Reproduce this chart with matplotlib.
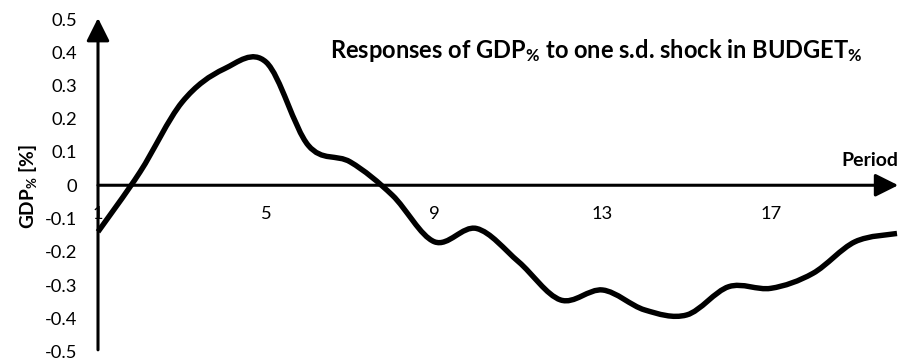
import matplotlib
matplotlib.use('Agg')
import matplotlib.pyplot as plt
from matplotlib.path import Path
from matplotlib.patches import PathPatch

# ---- data ----
periods = list(range(1, 21))
gdp_response = [-0.14, 0.04, 0.25, 0.35, 0.37, 0.12, 0.07, -0.03, -0.17, -0.13,
                -0.23, -0.345, -0.315, -0.375, -0.39, -0.305, -0.31, -0.265, -0.17, -0.145]
xtick_values = [1, 5, 9, 13, 17]
xtick_labels = ['1', '5', '9', '13', '17']
ytick_values = [-0.5, -0.4, -0.3, -0.2, -0.1, 0.0, 0.1, 0.2, 0.3, 0.4, 0.5]
ytick_labels = ['-0.5', '-0.4', '-0.3', '-0.2', '-0.1', '0', '0.1', '0.2', '0.3', '0.4', '0.5']
title_text = r"Responses of GDP$_{\mathbf{\%}}$ to one s.d. shock in BUDGET$_{\mathbf{\%}}$"
ylabel_text = r"GDP$_{\mathbf{\%}}$ [%]"
xlabel_text = "Period"

plt.rcParams['font.family'] = ['Lato', 'DejaVu Sans']
plt.rcParams['mathtext.fontset'] = 'custom'
plt.rcParams['mathtext.rm'] = 'Lato'
plt.rcParams['mathtext.bf'] = 'Lato:bold'
plt.rcParams['mathtext.it'] = 'Lato:italic'

W, H = 899, 360
fig = plt.figure(figsize=(W / 100, H / 100), dpi=100)
x0, x1 = 98, 897
ytop, ybot = 19, 351.5
ax = fig.add_axes([x0 / W, 1 - ybot / H, (x1 - x0) / W, (ybot - ytop) / H])
ax.set_xlim(1, 20)
ax.set_ylim(-0.5, 0.5)
for s in ax.spines.values():
    s.set_visible(False)

# smooth curve (Excel-like Bezier smoothing through the data points)
xs, ys = periods, gdp_response
n = len(xs)
verts = [(xs[0], ys[0])]
codes = [Path.MOVETO]
for i in range(n - 1):
    p0 = (xs[max(i - 1, 0)], ys[max(i - 1, 0)])
    p1 = (xs[i], ys[i])
    p2 = (xs[i + 1], ys[i + 1])
    p3 = (xs[min(i + 2, n - 1)], ys[min(i + 2, n - 1)])
    c1 = (p1[0] + (p2[0] - p0[0]) / 6, p1[1] + (p2[1] - p0[1]) / 6)
    c2 = (p2[0] - (p3[0] - p1[0]) / 6, p2[1] - (p3[1] - p1[1]) / 6)
    verts += [c1, c2, p2]
    codes += [Path.CURVE4] * 3
ax.add_patch(PathPatch(Path(verts, codes), facecolor='none', edgecolor='black',
                       lw=3.9, capstyle='butt', joinstyle='round', zorder=3, clip_on=False))

# ticks / labels
ax.set_yticks(ytick_values)
ax.set_yticklabels(ytick_labels)
ax.set_xticks([])
ax.tick_params(axis='y', length=0, pad=15, labelsize=13.2)
for v, lab in zip(xtick_values, xtick_labels):
    ax.annotate(lab, xy=(v, 0), xytext=(0, -29), textcoords='offset pixels',
                ha='center', va='center', fontsize=13.2, zorder=1)

# axes with arrows
ax.annotate('', xy=(1.0015, 0), xycoords=('axes fraction', 'data'),
            xytext=(0, 0), textcoords=('axes fraction', 'data'),
            arrowprops=dict(arrowstyle='-|>,head_length=0.7,head_width=0.35', lw=2.2,
                            color='black', shrinkA=0, shrinkB=0, mutation_scale=20),
            zorder=2, annotation_clip=False)
ax.annotate('', xy=(1, 0.503), xycoords='data',
            xytext=(1, -0.495), textcoords='data',
            arrowprops=dict(arrowstyle='-|>,head_length=0.7,head_width=0.35', lw=2.2,
                            color='black', shrinkA=0, shrinkB=0, mutation_scale=20),
            zorder=2, annotation_clip=False)

fig.text(596 / W, 1 - 51 / H, title_text, ha='center', va='center',
         fontsize=17, fontweight='bold')
fig.text(28 / W, 1 - 187 / H, ylabel_text, ha='center', va='center',
         rotation=90, fontsize=13.8, fontweight='bold')
fig.text(898 / W, 1 - 160 / H, xlabel_text, ha='right', va='center',
         fontsize=14, fontweight='bold')

fig.savefig('out.png', dpi=100)
